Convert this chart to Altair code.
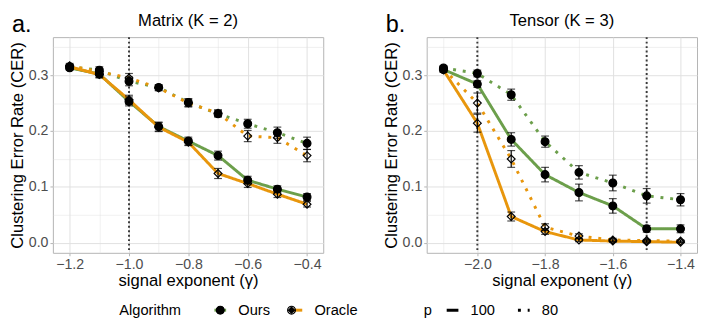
import altair as alt
import pandas as pd

# ---------------- data ----------------
algorithms = ["Ours", "Oracle"]
p_levels = ["100", "80"]

matrix_x = [-1.2, -1.1, -1.0, -0.9, -0.8, -0.7, -0.6, -0.5, -0.4]
matrix_ours_100 = [0.313, 0.302, 0.253, 0.208, 0.182, 0.156, 0.112, 0.096, 0.082]
matrix_ours_100_se = [0.004, 0.006, 0.008, 0.008, 0.007, 0.008, 0.007, 0.006, 0.006]
matrix_oracle_100 = [0.315, 0.301, 0.256, 0.207, 0.180, 0.124, 0.106, 0.087, 0.069]
matrix_oracle_100_se = [0.004, 0.006, 0.008, 0.008, 0.006, 0.009, 0.007, 0.006, 0.005]
matrix_ours_80 = [0.315, 0.309, 0.289, 0.278, 0.251, 0.231, 0.213, 0.197, 0.178]
matrix_ours_80_se = [0.004, 0.006, 0.008, 0.005, 0.007, 0.006, 0.008, 0.010, 0.011]
matrix_oracle_80 = [0.317, 0.306, 0.295, 0.277, 0.250, 0.232, 0.191, 0.188, 0.156]
matrix_oracle_80_se = [0.004, 0.006, 0.008, 0.005, 0.007, 0.006, 0.010, 0.010, 0.011]
matrix_vlines = [-1.0]

tensor_x = [-2.1, -2.0, -1.9, -1.8, -1.7, -1.6, -1.5, -1.4]
tensor_ours_100 = [0.310, 0.284, 0.185, 0.122, 0.090, 0.066, 0.025, 0.025]
tensor_ours_100_se = [0.004, 0.006, 0.012, 0.013, 0.015, 0.013, 0.006, 0.007]
tensor_oracle_100 = [0.309, 0.214, 0.047, 0.020, 0.005, 0.003, 0.002, 0.001]
tensor_oracle_100_se = [0.004, 0.016, 0.008, 0.005, 0.003, 0.002, 0.002, 0.001]
tensor_ours_80 = [0.313, 0.303, 0.265, 0.181, 0.126, 0.107, 0.084, 0.077]
tensor_ours_80_se = [0.004, 0.006, 0.010, 0.010, 0.012, 0.014, 0.013, 0.011]
tensor_oracle_80 = [0.311, 0.250, 0.150, 0.028, 0.012, 0.005, 0.004, 0.003]
tensor_oracle_80_se = [0.004, 0.018, 0.015, 0.006, 0.004, 0.003, 0.002, 0.002]
tensor_vlines = [-2.0, -1.5]

matrix_ticks = [-1.2, -1.1, -1.0, -0.9, -0.8, -0.7, -0.6, -0.5, -0.4]
tensor_ticks = [-2.1, -2.0, -1.9, -1.8, -1.7, -1.6, -1.5, -1.4]
y_ticks = [0.0, 0.05, 0.1, 0.15, 0.2, 0.25, 0.3, 0.35]

GREEN = "#6C9F4B"
ORANGE = "#E8960C"
FONT = "Liberation Sans"


def build_df(xs, series):
    rows = []
    for (alg, p), (vals, ses) in series.items():
        for x, v, s in zip(xs, vals, ses):
            rows.append({"gamma": x, "cer": v, "lo": v - s, "hi": v + s,
                         "Algorithm": alg, "Alg2": alg, "p": p})
    return pd.DataFrame(rows)


matrix_df = build_df(matrix_x, {
    ("Ours", "100"): (matrix_ours_100, matrix_ours_100_se),
    ("Ours", "80"): (matrix_ours_80, matrix_ours_80_se),
    ("Oracle", "100"): (matrix_oracle_100, matrix_oracle_100_se),
    ("Oracle", "80"): (matrix_oracle_80, matrix_oracle_80_se),
})
tensor_df = build_df(tensor_x, {
    ("Ours", "100"): (tensor_ours_100, tensor_ours_100_se),
    ("Ours", "80"): (tensor_ours_80, tensor_ours_80_se),
    ("Oracle", "100"): (tensor_oracle_100, tensor_oracle_100_se),
    ("Oracle", "80"): (tensor_oracle_80, tensor_oracle_80_se),
})

# ---------------- styling ----------------
PW, PH = 277, 221
TOP = 24
Y_DOMAIN = [-0.018, 0.368]
MAJ_X = "abs(datum.value*5 - round(datum.value*5)) < 0.001"
MAJ_Y = "abs(datum.value*10 - round(datum.value*10)) < 0.001"

LEG_Y = 272
color_legend = alt.Legend(
    title="Algorithm", orient="none", legendX=68, legendY=LEG_Y,
    direction="horizontal", titleOrient="left", symbolType="stroke",
    symbolSize=144, symbolStrokeWidth=3, labelFontSize=15, titleFontSize=15,
    labelOffset=11, columnPadding=14, titlePadding=32,
    labelColor="black", titleColor="black", titleFontWeight="normal")
shape_legend = alt.Legend(
    title="Algorithm", orient="none", legendX=68, legendY=LEG_Y,
    direction="horizontal", titleOrient="left",
    symbolSize=64, symbolStrokeWidth=1.2, symbolStrokeColor="black",
    labelFontSize=15, titleFontSize=15,
    labelOffset=11, columnPadding=14, titlePadding=32,
    labelOpacity=0, titleOpacity=0, titleFontWeight="normal")
dash_legend = alt.Legend(
    title="p", orient="none", legendX=380, legendY=LEG_Y,
    direction="horizontal", titleOrient="left", symbolType="stroke",
    symbolSize=144, symbolStrokeWidth=3, symbolStrokeColor="black",
    labelFontSize=15, titleFontSize=15,
    labelOffset=11, columnPadding=16, titlePadding=13,
    labelColor="black", titleColor="black", titleFontWeight="normal")


def panel(df, vlines, xdomain, xticks, title, tag):
    x_axis = alt.Axis(
        values=xticks, title="signal exponent (γ)",
        labelExpr=f"{MAJ_X} ? format(datum.value, '.1f') : ''",
        gridWidth={"condition": {"test": MAJ_X, "value": 1.0}, "value": 0.5},
        tickColor={"condition": {"test": MAJ_X, "value": "#B3B3B3"}, "value": "transparent"},
    )
    y_axis = alt.Axis(
        values=y_ticks, title="Clustering Error Rate (CER)",
        labelExpr=f"{MAJ_Y} ? format(datum.value, '.1f') : ''",
        gridWidth={"condition": {"test": MAJ_Y, "value": 1.0}, "value": 0.5},
        tickColor={"condition": {"test": MAJ_Y, "value": "#B3B3B3"}, "value": "transparent"},
    )
    xs = alt.Scale(domain=xdomain, nice=False, zero=False)
    ys = alt.Scale(domain=Y_DOMAIN, nice=False, zero=False)
    X = alt.X("gamma:Q", scale=xs, axis=x_axis)

    base = alt.Chart(df)

    vrule = alt.Chart(pd.DataFrame({"gamma": vlines})).mark_rule(
        color="#3A3A3A", strokeWidth=2, strokeDash=[2, 2.6]
    ).encode(x=X)

    lines = base.mark_line(strokeWidth=3).encode(
        x=X,
        y=alt.Y("cer:Q", scale=ys, axis=y_axis),
        color=alt.Color("Algorithm:N",
                        scale=alt.Scale(domain=algorithms, range=[GREEN, ORANGE]),
                        legend=color_legend),
        strokeDash=alt.StrokeDash("p:N",
                                  scale=alt.Scale(domain=p_levels, range=[[1, 0], [3, 7]]),
                                  legend=dash_legend),
    )

    err = base.mark_rule(color="black", strokeWidth=1.2).encode(
        x=X, y=alt.Y("lo:Q", scale=ys, axis=y_axis), y2="hi:Q")
    cap_lo = base.mark_tick(color="black", orient="horizontal", size=8, thickness=1.2).encode(
        x=X, y=alt.Y("lo:Q", scale=ys, axis=y_axis))
    cap_hi = base.mark_tick(color="black", orient="horizontal", size=8, thickness=1.2).encode(
        x=X, y=alt.Y("hi:Q", scale=ys, axis=y_axis))

    pts = base.mark_point(size=64, stroke="black", strokeWidth=1.2, opacity=1).encode(
        x=X,
        y=alt.Y("cer:Q", scale=ys, axis=y_axis),
        shape=alt.Shape("Alg2:N", sort=algorithms,
                        scale=alt.Scale(range=["circle", "diamond"]), legend=shape_legend),
        fill=alt.Fill("Alg2:N", sort=algorithms,
                      scale=alt.Scale(range=["black", "transparent"]), legend=shape_legend),
    )

    tag_mark = alt.Chart(pd.DataFrame({"tag": [tag]})).mark_text(
        fontSize=24, align="left", baseline="top", color="black", font=FONT
    ).encode(x=alt.value(-42), y=alt.value(-TOP), text="tag:N")

    return alt.layer(vrule, lines, err, cap_lo, cap_hi, pts, tag_mark).properties(
        width=PW, height=PH,
        title=alt.TitleParams(title, fontSize=17, fontWeight="normal", color="black",
                              anchor="middle", offset=3, frame="group", dy=20),
    )


left = panel(matrix_df, matrix_vlines, [-1.2565, -0.3455], matrix_ticks, "Matrix (K = 2)", "a.")
right = panel(tensor_df, tensor_vlines, [-2.1496, -1.3513], tensor_ticks, "Tensor (K = 3)", "b.")

chart = alt.hconcat(left, right, spacing=59).properties(
    padding={"left": 0, "top": 0, "right": 0, "bottom": 0}
).configure(font=FONT).configure_view(
    stroke="#B3B3B3", strokeWidth=1
).configure_axis(
    domain=False, labelColor="#4D4D4D", labelFontSize=14.5, titleFontSize=17,
    titleFontWeight="normal", titleColor="black", tickSize=3, labelPadding=2,
    titlePadding=2, gridColor="#E0E0E0", labelFont=FONT, titleFont=FONT,
).configure_legend(labelFont=FONT, titleFont=FONT)

chart.save("out.html", embed_options={"renderer": "svg", "actions": False})
